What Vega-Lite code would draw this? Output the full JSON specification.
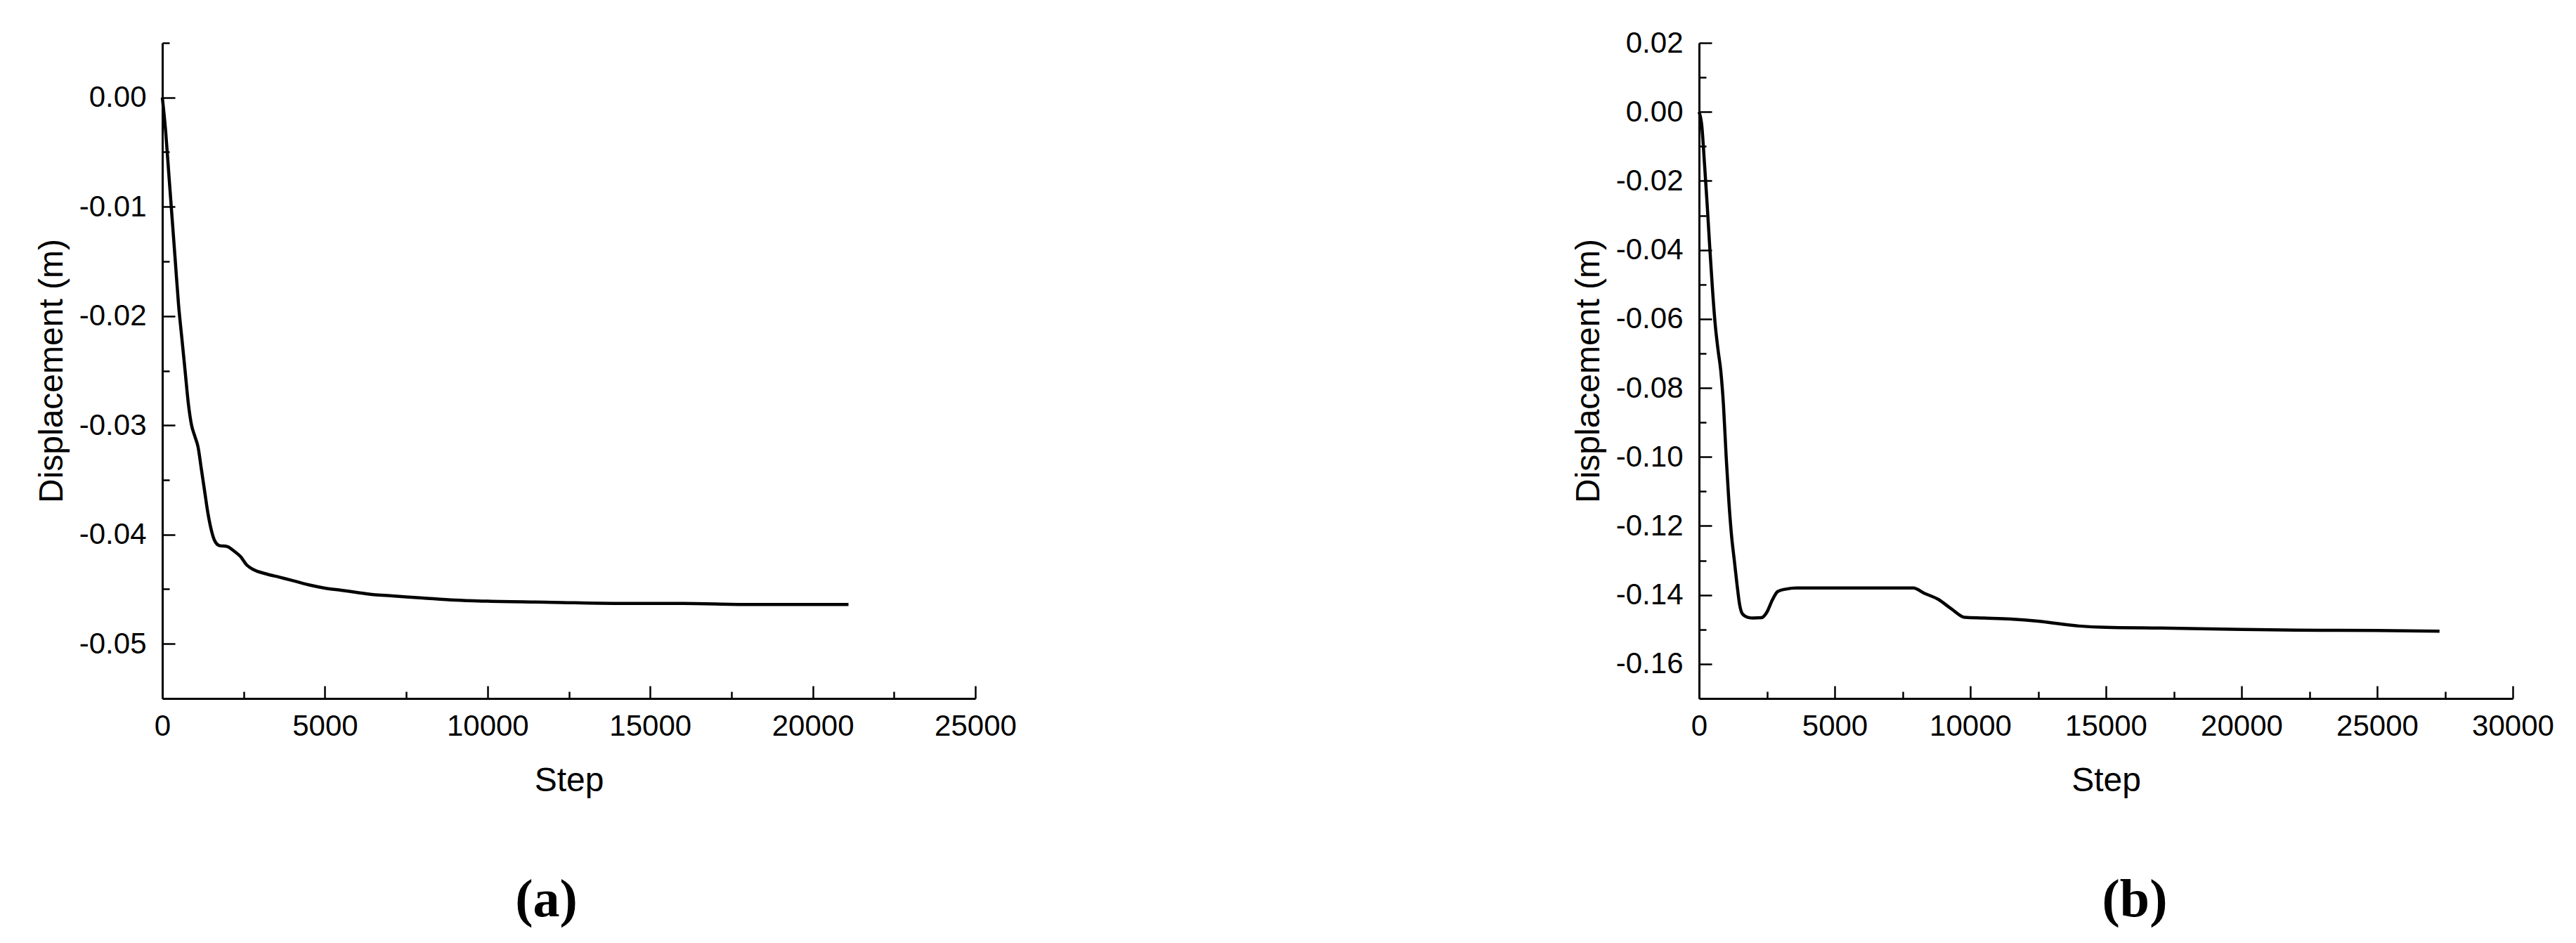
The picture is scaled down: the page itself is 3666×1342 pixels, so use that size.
{
  "$schema": "https://vega.github.io/schema/vega-lite/v6.json",
  "background": "white",
  "padding": {"left": 50, "top": 40, "right": 10, "bottom": 10},
  "spacing": 790,
  "config": {
    "view": {"stroke": null},
    "font": "Liberation Sans",
    "axis": {
      "grid": false,
      "domainColor": "black",
      "domainWidth": 3,
      "tickColor": "black",
      "tickWidth": 2.5,
      "labelColor": "black",
      "labelFont": "Liberation Sans",
      "labelFontSize": 42,
      "labelFlush": false,
      "labelOverlap": false,
      "titleColor": "black",
      "titleFont": "Liberation Sans",
      "titleFontSize": 48,
      "titleFontWeight": "normal"
    }
  },
  "hconcat": [
    {
      "width": 1157,
      "height": 933,
      "title": {"text": "(a)", "orient": "bottom", "anchor": "middle", "frame": "group", "font": "Liberation Serif", "fontSize": 76, "fontWeight": "bold", "color": "black", "offset": 109, "dx": -32},
      "data": {"values": [
        {"step": 0, "d": 0},
        {"step": 100, "d": -0.003},
        {"step": 200, "d": -0.007},
        {"step": 300, "d": -0.011},
        {"step": 400, "d": -0.015},
        {"step": 500, "d": -0.019},
        {"step": 600, "d": -0.022},
        {"step": 700, "d": -0.025},
        {"step": 800, "d": -0.028},
        {"step": 900, "d": -0.030},
        {"step": 1000, "d": -0.031},
        {"step": 1100, "d": -0.032},
        {"step": 1200, "d": -0.034},
        {"step": 1300, "d": -0.036},
        {"step": 1400, "d": -0.038},
        {"step": 1500, "d": -0.0395},
        {"step": 1600, "d": -0.0405},
        {"step": 1750, "d": -0.041},
        {"step": 2000, "d": -0.0411},
        {"step": 2200, "d": -0.0415},
        {"step": 2400, "d": -0.042},
        {"step": 2600, "d": -0.0428},
        {"step": 2800, "d": -0.0432},
        {"step": 3200, "d": -0.0436},
        {"step": 3600, "d": -0.0439},
        {"step": 4000, "d": -0.0442},
        {"step": 4500, "d": -0.0446},
        {"step": 5000, "d": -0.0449},
        {"step": 5500, "d": -0.0451},
        {"step": 6000, "d": -0.0453},
        {"step": 6500, "d": -0.0455},
        {"step": 7000, "d": -0.0456},
        {"step": 8000, "d": -0.0458},
        {"step": 9000, "d": -0.0460},
        {"step": 10000, "d": -0.0461},
        {"step": 12000, "d": -0.0462},
        {"step": 14000, "d": -0.0463},
        {"step": 16000, "d": -0.0463},
        {"step": 18000, "d": -0.0464},
        {"step": 21100, "d": -0.0464}
      ]},
      "layer": [
        {
          "mark": {"type": "line", "color": "black", "strokeWidth": 4.5, "interpolate": "monotone"},
          "encoding": {
            "x": {"field": "step", "type": "quantitative", "scale": {"domain": [0, 25000], "nice": false, "zero": false},
              "axis": {"orient": "bottom", "values": [0, 5000, 10000, 15000, 20000, 25000], "format": "d", "tickSize": -18, "labelPadding": 37, "title": "Step", "titlePadding": 33}},
            "y": {"field": "d", "type": "quantitative", "scale": {"domain": [-0.055, 0.005], "nice": false, "zero": false},
              "axis": {"orient": "left", "values": [0, -0.01, -0.02, -0.03, -0.04, -0.05], "labelExpr": "replace(format(datum.value, '.2f'), '\u2212', '-')", "tickSize": -18, "labelPadding": 41, "title": "Displacement (m)", "titlePadding": 14}}
          }
        },
        {
          "mark": {"type": "line", "opacity": 0},
          "encoding": {
            "x": {"field": "step", "type": "quantitative",
              "axis": {"orient": "bottom", "values": [2500, 7500, 12500, 17500, 22500], "labels": false, "domain": false, "tickSize": -10, "title": null}},
            "y": {"field": "d", "type": "quantitative",
              "axis": {"orient": "left", "values": [0.005, -0.005, -0.015, -0.025, -0.035, -0.045], "labels": false, "domain": false, "tickSize": -10, "title": null}}
          }
        }
      ],
      "resolve": {"axis": {"x": "independent", "y": "independent"}}
    },
    {
      "width": 1158,
      "height": 933,
      "title": {"text": "(b)", "orient": "bottom", "anchor": "middle", "frame": "group", "font": "Liberation Serif", "fontSize": 76, "fontWeight": "bold", "color": "black", "offset": 109, "dx": 41},
      "data": {"values": [
        {"step": 0, "d": 0},
        {"step": 100, "d": -0.004},
        {"step": 200, "d": -0.015},
        {"step": 300, "d": -0.027},
        {"step": 400, "d": -0.040},
        {"step": 500, "d": -0.052},
        {"step": 600, "d": -0.062},
        {"step": 700, "d": -0.069},
        {"step": 800, "d": -0.075},
        {"step": 900, "d": -0.085},
        {"step": 1000, "d": -0.100},
        {"step": 1100, "d": -0.113},
        {"step": 1200, "d": -0.123},
        {"step": 1300, "d": -0.130},
        {"step": 1400, "d": -0.137},
        {"step": 1500, "d": -0.143},
        {"step": 1600, "d": -0.1455},
        {"step": 1800, "d": -0.1465},
        {"step": 2000, "d": -0.1467},
        {"step": 2300, "d": -0.1466},
        {"step": 2500, "d": -0.145},
        {"step": 2700, "d": -0.1415},
        {"step": 2900, "d": -0.139},
        {"step": 3200, "d": -0.1383},
        {"step": 3600, "d": -0.138},
        {"step": 5000, "d": -0.138},
        {"step": 7900, "d": -0.138},
        {"step": 8300, "d": -0.1395},
        {"step": 8800, "d": -0.1412},
        {"step": 9300, "d": -0.144},
        {"step": 9800, "d": -0.1465},
        {"step": 10500, "d": -0.1467},
        {"step": 11500, "d": -0.147},
        {"step": 12500, "d": -0.1476},
        {"step": 14000, "d": -0.149},
        {"step": 15000, "d": -0.1494},
        {"step": 17000, "d": -0.1496},
        {"step": 20000, "d": -0.150},
        {"step": 22000, "d": -0.1502},
        {"step": 25000, "d": -0.1503},
        {"step": 27300, "d": -0.1505}
      ]},
      "layer": [
        {
          "mark": {"type": "line", "color": "black", "strokeWidth": 4.5, "interpolate": "monotone"},
          "encoding": {
            "x": {"field": "step", "type": "quantitative", "scale": {"domain": [0, 30000], "nice": false, "zero": false},
              "axis": {"orient": "bottom", "values": [0, 5000, 10000, 15000, 20000, 25000, 30000], "format": "d", "tickSize": -18, "labelPadding": 37, "title": "Step", "titlePadding": 33}},
            "y": {"field": "d", "type": "quantitative", "scale": {"domain": [-0.17, 0.02], "nice": false, "zero": false},
              "axis": {"orient": "left", "values": [0.02, 0, -0.02, -0.04, -0.06, -0.08, -0.1, -0.12, -0.14, -0.16], "labelExpr": "replace(format(datum.value, '.2f'), '\u2212', '-')", "tickSize": -18, "labelPadding": 41, "title": "Displacement (m)", "titlePadding": 14}}
          }
        },
        {
          "mark": {"type": "line", "opacity": 0},
          "encoding": {
            "x": {"field": "step", "type": "quantitative",
              "axis": {"orient": "bottom", "values": [2500, 7500, 12500, 17500, 22500, 27500], "labels": false, "domain": false, "tickSize": -10, "title": null}},
            "y": {"field": "d", "type": "quantitative",
              "axis": {"orient": "left", "values": [0.01, -0.01, -0.03, -0.05, -0.07, -0.09, -0.11, -0.13, -0.15], "labels": false, "domain": false, "tickSize": -10, "title": null}}
          }
        }
      ],
      "resolve": {"axis": {"x": "independent", "y": "independent"}}
    }
  ]
}
